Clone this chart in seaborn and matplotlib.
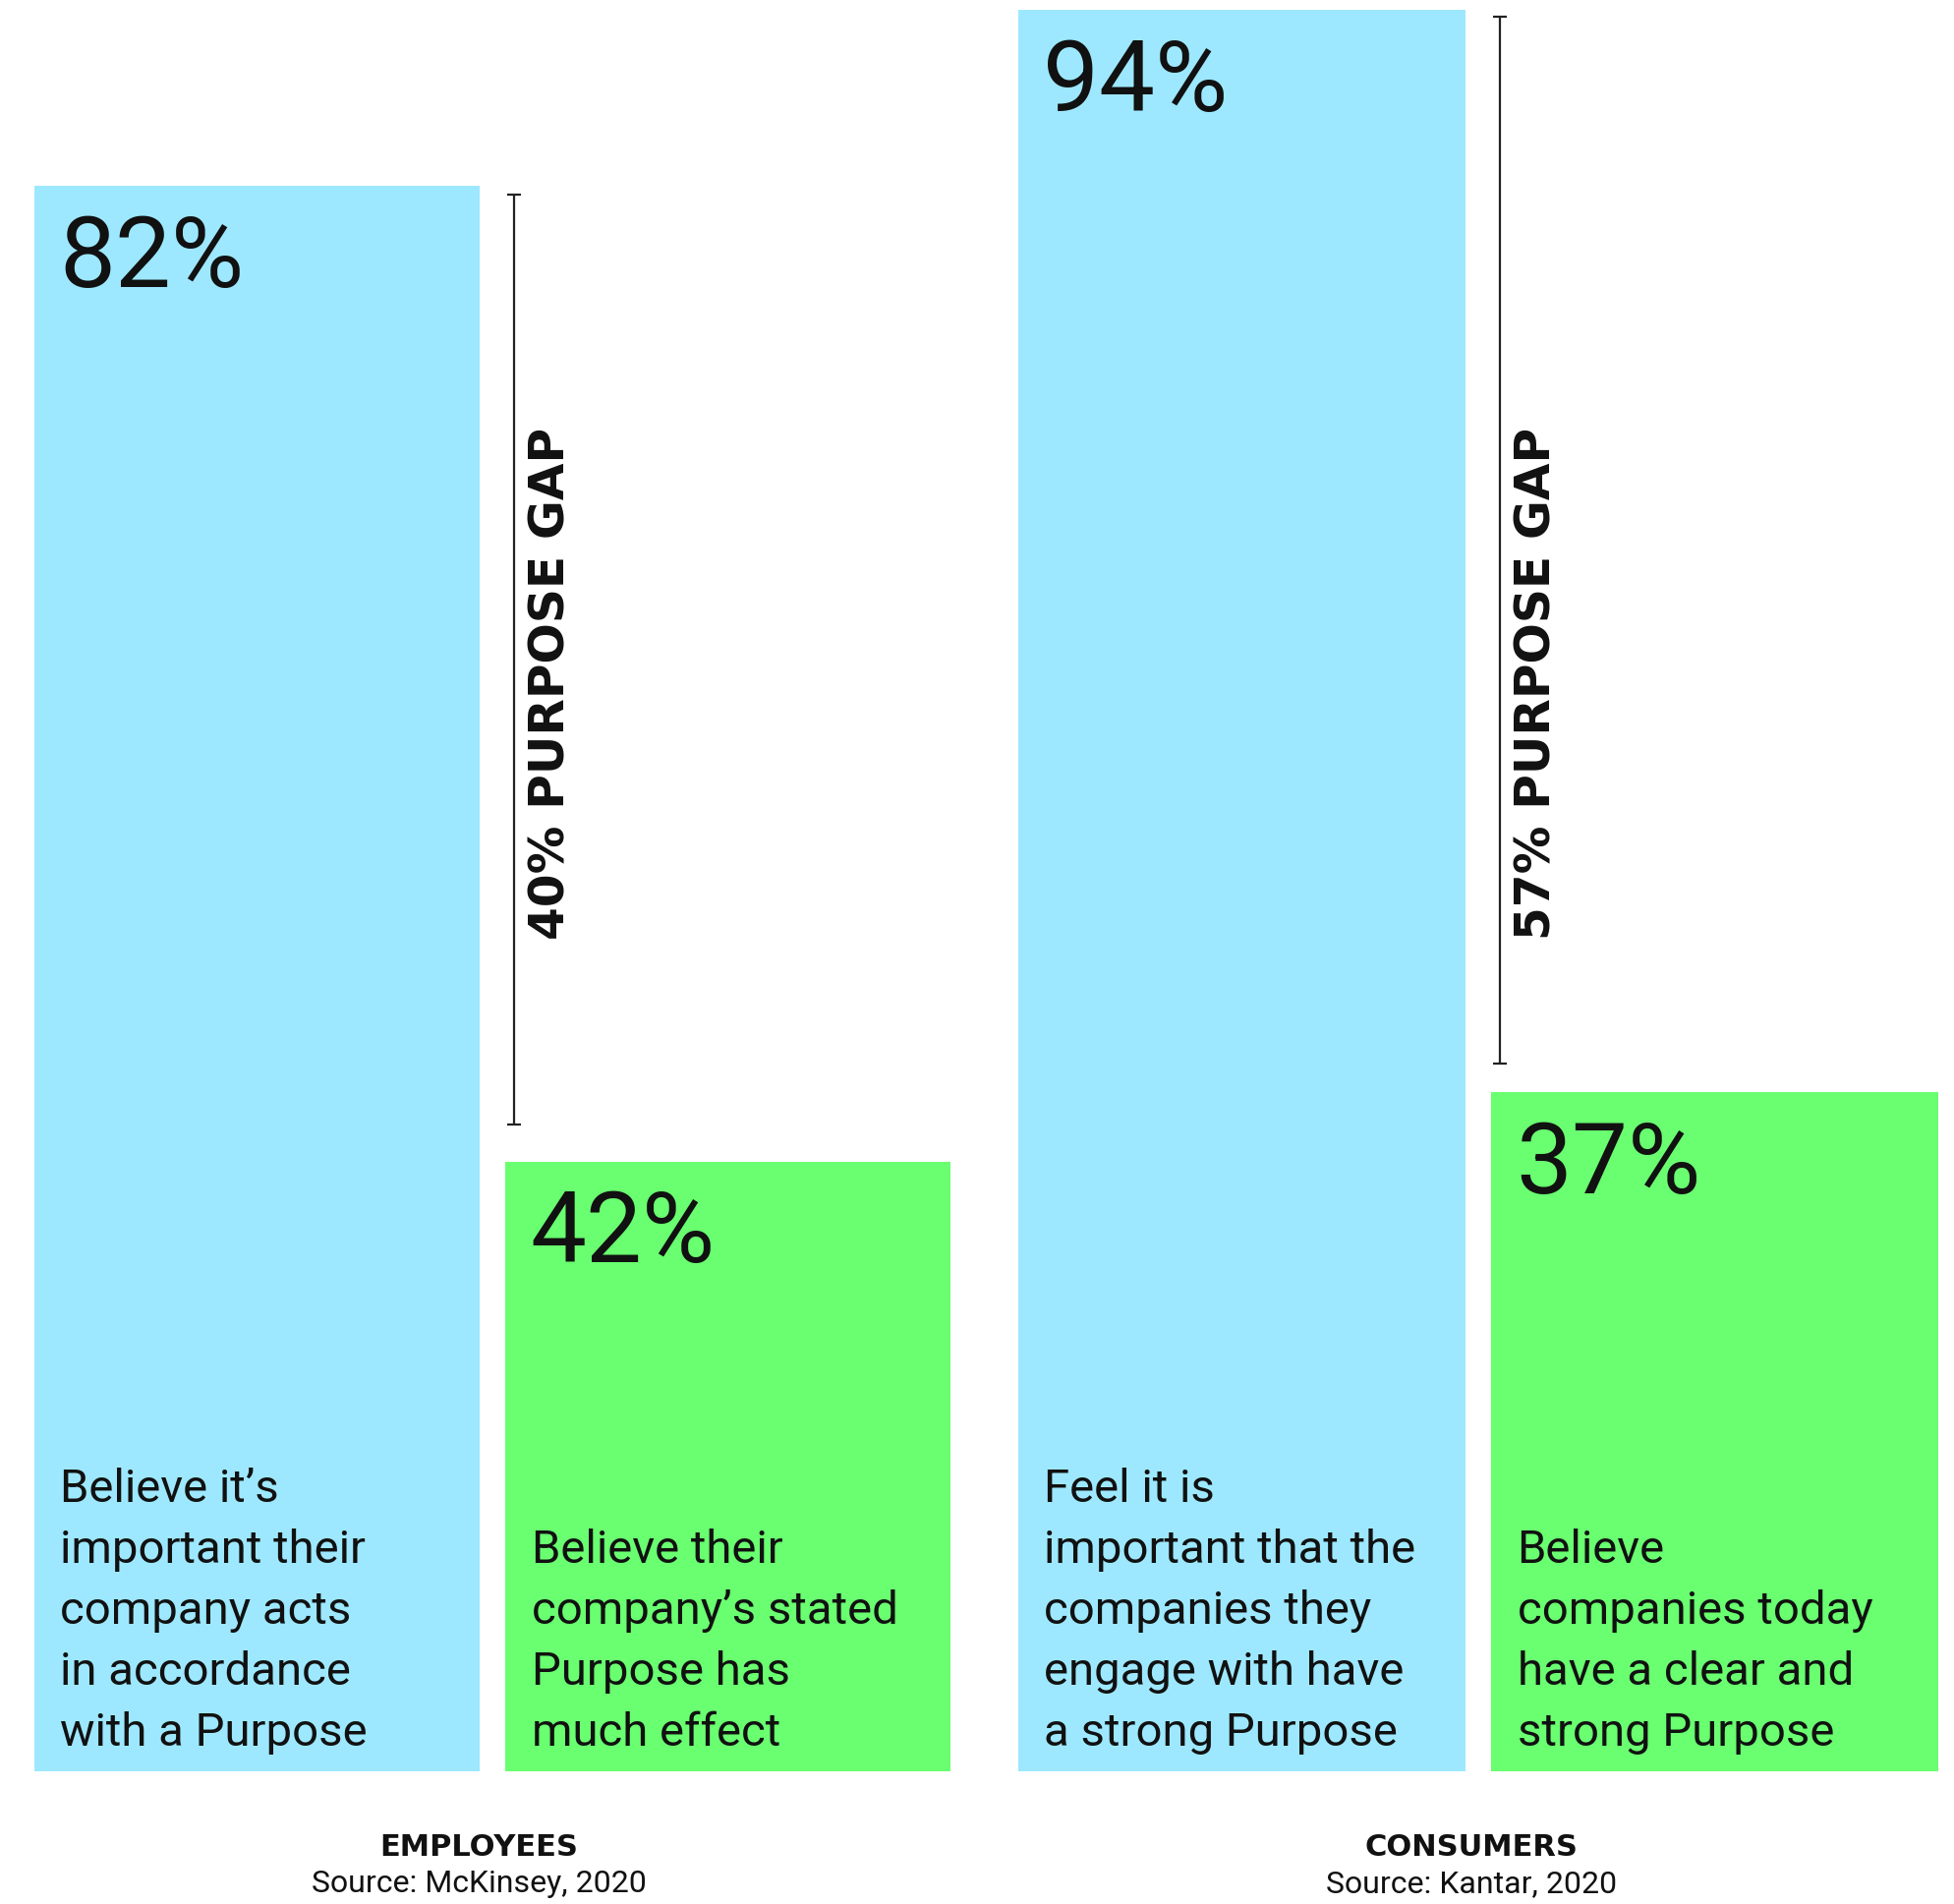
import matplotlib
matplotlib.use("Agg")
import matplotlib.pyplot as plt
import seaborn as sns

# ---------------------------------------------------------------
# data
# ---------------------------------------------------------------
groups = ["EMPLOYEES", "CONSUMERS"]
sources = ["Source: McKinsey, 2020", "Source: Kantar, 2020"]
categories = ["Important", "Actual"]

employee_values = [82, 42]
consumer_values = [94, 37]

employee_desc = [
    "Believe it\u2019s\nimportant their\ncompany acts\nin accordance\nwith a Purpose",
    "Believe their\ncompany\u2019s stated\nPurpose has\nmuch effect",
]
consumer_desc = [
    "Feel it is\nimportant that the\ncompanies they\nengage with have\na strong Purpose",
    "Believe\ncompanies today\nhave a clear and\nstrong Purpose",
]

# ---------------------------------------------------------------
# style / layout
# ---------------------------------------------------------------
sns.set_theme(style="white")
plt.rcParams['font.family'] = ['Roboto', 'DejaVu Sans']

BLUE = "#9de8ff"
GREEN = "#69ff70"
INK = "#111111"
BAR_W = 0.945

fig = plt.figure(figsize=(19.88, 19.37), dpi=100)
# axes rectangles + y range of each panel (infographic, not a shared scale)
panels = [
    ([0.0176, 0.0697, 0.4690, 0.9303], (17.0, 89.62)),
    ([0.5211, 0.0697, 0.4708, 0.9303], (1.23, 94.52)),
]
label_x = [0.2453, 0.7530]
all_values = [employee_values, consumer_values]
all_desc = [employee_desc, consumer_desc]

for i, (rect, ylim) in enumerate(panels):
    ax = fig.add_axes(rect)
    vals = all_values[i]
    sns.barplot(x=categories, y=vals, hue=categories, palette=[BLUE, GREEN],
                width=BAR_W, saturation=1, linewidth=0, legend=False, ax=ax)
    ax.set_xlim(-BAR_W / 2, 1 + BAR_W / 2)
    ax.set_ylim(*ylim)
    ax.axis("off")

    for j, v in enumerate(vals):
        left = j - BAR_W / 2
        ax.annotate(f"{v}%", xy=(left, v), xytext=(18, -74),
                    textcoords="offset points", ha="left", va="baseline",
                    fontsize=73, fontweight="normal", color=INK)
        ax.annotate(all_desc[i][j], xy=(left, ylim[0]), xytext=(19, 12),
                    textcoords="offset points", ha="left", va="bottom",
                    fontsize=34, color=INK, linespacing=1.52)

    # purpose gap bracket
    px_per_unit = ax.get_window_extent().width / (1 + BAR_W)
    high, low = vals
    bx = 1 - BAR_W / 2 + 9 / px_per_unit
    hi = high - 0.36
    lo = low + 1.5
    ax.errorbar(bx, (hi + lo) / 2, yerr=(hi - lo) / 2, fmt="none",
                ecolor="#222222", elinewidth=1.6, capsize=5, capthick=1.6)
    ax.text(bx + 37 / px_per_unit, 0.614, f"{high - low}% PURPOSE GAP",
            transform=ax.get_xaxis_transform(), rotation=90,
            ha="center", va="center", fontsize=35, fontweight="bold",
            family="DejaVu Sans", color=INK)

    fig.text(label_x[i], 0.0253, groups[i], ha="center", va="baseline",
             fontsize=22, fontweight="bold", family="DejaVu Sans", color=INK)
    fig.text(label_x[i], 0.0060, sources[i], ha="center", va="baseline",
             fontsize=23, color=INK)

fig.savefig("out.png", dpi=100, facecolor="white")
